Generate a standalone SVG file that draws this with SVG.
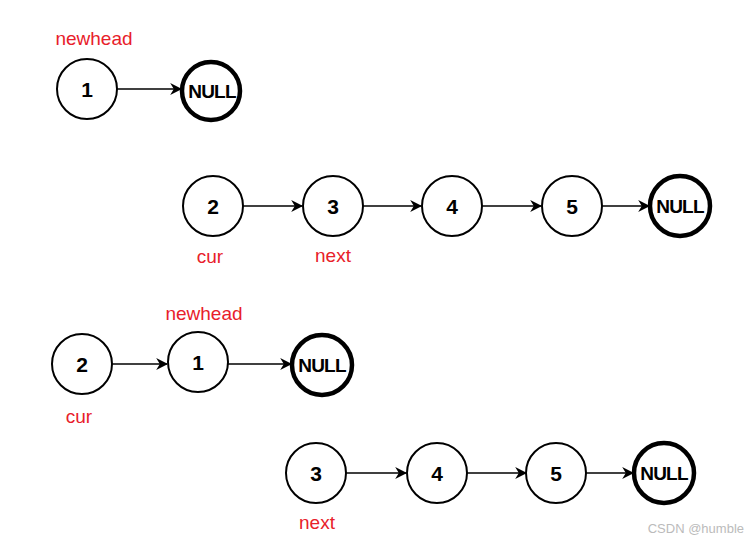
<svg xmlns="http://www.w3.org/2000/svg" width="752" height="543" viewBox="0 0 752 543">
<style>
.n{fill:#fff;stroke:#000;stroke-width:2}
.nl{fill:#fff;stroke:#000;stroke-width:4.5}
.t{font-family:"Liberation Sans",Arial,sans-serif;font-weight:bold;font-size:21px;text-anchor:middle;dominant-baseline:central;fill:#000}
.tn{font-family:"Liberation Sans",Arial,sans-serif;font-weight:bold;font-size:19px;text-anchor:middle;dominant-baseline:central;fill:#000;letter-spacing:-0.8px}
.r{font-family:"Liberation Sans",Arial,sans-serif;font-size:19px;text-anchor:middle;dominant-baseline:central;fill:#e8202a}
.e{stroke:#000;stroke-width:1.6;fill:none;marker-end:url(#a)}
</style>
<defs>
<marker id="a" viewBox="0 0 10 10" refX="9" refY="5" markerWidth="12" markerHeight="12" markerUnits="userSpaceOnUse" orient="auto">
<path d="M0,0 L10,5 L0,10 L3,5 Z" fill="#000"/>
</marker>
</defs>
<rect width="752" height="543" fill="#fff"/>
<g id="connectors">
<line class="e" x1="117" y1="89" x2="181" y2="89"/>
<line class="e" x1="243" y1="206" x2="302" y2="206"/>
<line class="e" x1="363" y1="206" x2="421" y2="206"/>
<line class="e" x1="482" y1="206" x2="541" y2="206"/>
<line class="e" x1="597" y1="206" x2="649" y2="206"/>
<line class="e" x1="112" y1="364" x2="167" y2="364"/>
<line class="e" x1="228" y1="364" x2="291" y2="364"/>
<line class="e" x1="346" y1="473" x2="406" y2="473"/>
<line class="e" x1="467" y1="473" x2="526" y2="473"/>
<line class="e" x1="581" y1="473" x2="633" y2="473"/>
</g>
<g id="lbl-newhead1"><text class="r" x="94" y="38">newhead</text></g>
<g id="r1-n1"><circle class="n" cx="87" cy="89" r="30"/><text class="t" x="87" y="89">1</text></g>
<g id="r1-null"><circle class="nl" cx="211" cy="91" r="29"/><text class="tn" x="212" y="91">NULL</text></g>
<g id="r2-n2"><circle class="n" cx="213" cy="206" r="30"/><text class="t" x="213" y="206">2</text></g>
<g id="r2-n3"><circle class="n" cx="333" cy="206" r="30"/><text class="t" x="333" y="206">3</text></g>
<g id="r2-n4"><circle class="n" cx="452" cy="206" r="30"/><text class="t" x="452" y="206">4</text></g>
<g id="r2-n5"><circle class="n" cx="572" cy="206" r="30"/><text class="t" x="572" y="206">5</text></g>
<g id="r2-null"><circle class="nl" cx="680" cy="206" r="30"/><text class="tn" x="680" y="206">NULL</text></g>
<g id="lbl-cur1"><text class="r" x="210" y="256">cur</text></g>
<g id="lbl-next1"><text class="r" x="333" y="255">next</text></g>
<g id="lbl-newhead2"><text class="r" x="204" y="313">newhead</text></g>
<g id="r3-n2"><circle class="n" cx="82" cy="364" r="30"/><text class="t" x="82" y="364">2</text></g>
<g id="r3-n1"><circle class="n" cx="198" cy="362" r="30"/><text class="t" x="198" y="362">1</text></g>
<g id="r3-null"><circle class="nl" cx="322" cy="365" r="30"/><text class="tn" x="322" y="365">NULL</text></g>
<g id="lbl-cur2"><text class="r" x="79" y="416">cur</text></g>
<g id="r4-n3"><circle class="n" cx="316" cy="473" r="30"/><text class="t" x="316" y="473">3</text></g>
<g id="r4-n4"><circle class="n" cx="437" cy="473" r="30"/><text class="t" x="437" y="473">4</text></g>
<g id="r4-n5"><circle class="n" cx="556" cy="473" r="30"/><text class="t" x="556" y="473">5</text></g>
<g id="r4-null"><circle class="nl" cx="664" cy="473" r="30"/><text class="tn" x="664" y="473">NULL</text></g>
<g id="lbl-next2"><text class="r" x="317" y="522">next</text></g>
<text x="744" y="528" font-family="'Liberation Sans',Arial,sans-serif" font-size="13" fill="#bbb" text-anchor="end" dominant-baseline="central">CSDN @humble</text>
</svg>
